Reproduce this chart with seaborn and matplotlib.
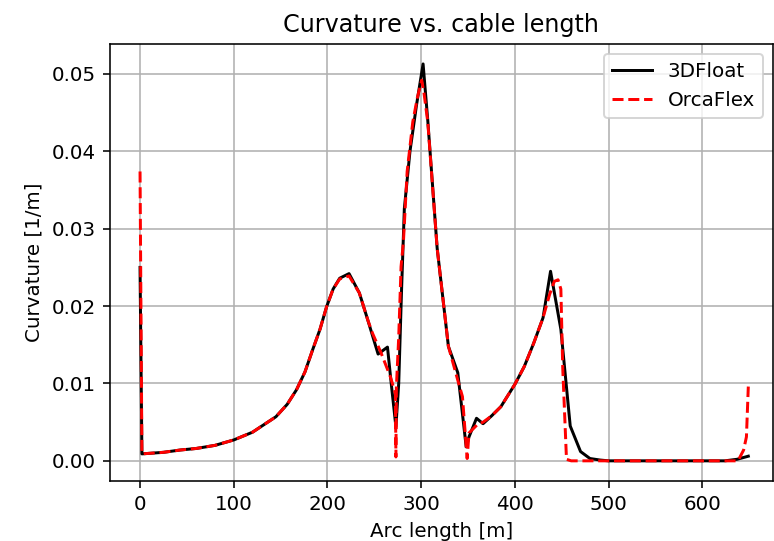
import matplotlib
matplotlib.use("Agg")
import matplotlib.pyplot as plt
import seaborn as sns
import pandas as pd

# 3DFloat curvature along the cable
float_s = [0, 2, 25, 43, 60, 80, 100, 120, 145, 157, 167, 176, 184, 192, 199, 206,
           213, 223, 234, 243, 254, 264, 268, 273, 276, 279, 282, 288, 295, 302, 307,
           317, 329, 339, 348, 351, 359, 366, 375, 385, 400, 410, 420, 430, 438, 449,
           459, 470, 480, 491, 500, 550, 600, 624, 637, 649]
float_k = [0.0250, 0.0009, 0.0011, 0.0014, 0.0016, 0.0020, 0.0027, 0.0037, 0.0057,
           0.0073, 0.0092, 0.0115, 0.0143, 0.0170, 0.0199, 0.0222, 0.0236, 0.0242,
           0.0217, 0.0182, 0.0138, 0.0147, 0.0100, 0.0044, 0.0100, 0.0220, 0.0326,
           0.0400, 0.0460, 0.0513, 0.0440, 0.0275, 0.0148, 0.0114, 0.0018, 0.0031,
           0.0055, 0.0048, 0.0058, 0.0070, 0.0099, 0.0122, 0.0152, 0.0185, 0.0245,
           0.0170, 0.0045, 0.0012, 0.0003, 0.0001, 0.0, 0.0, 0.0, 0.0, 0.0002, 0.0006]

# OrcaFlex curvature along the cable
orca_s = [0, 2, 25, 43, 60, 80, 100, 120, 145, 157, 167, 176, 184, 192, 199, 206,
          213, 223, 234, 243, 248, 257, 267, 272.5, 273, 273.5, 276, 278.5, 281, 285,
          291, 296, 300.5, 303, 307, 317, 329, 340, 344, 349, 351, 360, 366, 375, 385,
          400, 410, 420, 430, 437, 442, 446, 449, 451, 455, 460, 500, 550, 600, 638,
          644, 647, 649]
orca_k = [0.0374, 0.0009, 0.0011, 0.0014, 0.0016, 0.0020, 0.0027, 0.0037, 0.0057,
          0.0073, 0.0092, 0.0115, 0.0143, 0.0170, 0.0199, 0.0222, 0.0235, 0.0239,
          0.0217, 0.0182, 0.0165, 0.0140, 0.0109, 0.0087, 0.0005, 0.0095, 0.0160,
          0.0251, 0.0283, 0.0374, 0.0438, 0.0470, 0.0492, 0.0475, 0.0438, 0.0275,
          0.0148, 0.0100, 0.0083, 0.0003, 0.0036, 0.0047, 0.0050, 0.0058, 0.0070,
          0.0099, 0.0122, 0.0152, 0.0185, 0.0215, 0.0232, 0.0234, 0.0222, 0.0120,
          0.0002, 0.0, 0.0, 0.0, 0.0, 0.0, 0.0014, 0.0031, 0.0096]

df_float = pd.DataFrame({"s": float_s, "k": float_k})
df_orca = pd.DataFrame({"s": orca_s, "k": orca_k})

DPI = 143
fig, ax = plt.subplots(figsize=(775 / DPI, 541 / DPI), dpi=DPI)
fig.subplots_adjust(left=0.142, right=0.997, bottom=0.111, top=0.919)

sns.lineplot(data=df_float, x="s", y="k", color="black", linewidth=1.5,
             sort=False, estimator=None, label="3DFloat", ax=ax)
sns.lineplot(data=df_orca, x="s", y="k", color="red", linewidth=1.5, linestyle="--",
             sort=False, estimator=None, label="OrcaFlex", ax=ax)

ax.set_xlim(-32, 675)
ax.set_ylim(-0.0026, 0.0539)
ax.set_xticks([0, 100, 200, 300, 400, 500, 600])
ax.set_yticks([0.0, 0.01, 0.02, 0.03, 0.04, 0.05])
ax.set_yticklabels(["0.00", "0.01", "0.02", "0.03", "0.04", "0.05"])
ax.grid(True, color="#b0b0b0", linewidth=0.8)
ax.set_axisbelow(True)

ax.set_title("Curvature vs. cable length")
ax.set_xlabel("Arc length [m]")
ax.set_ylabel("Curvature [1/m]")
ax.legend(loc="upper right")

fig.savefig("out.png", dpi=DPI)
